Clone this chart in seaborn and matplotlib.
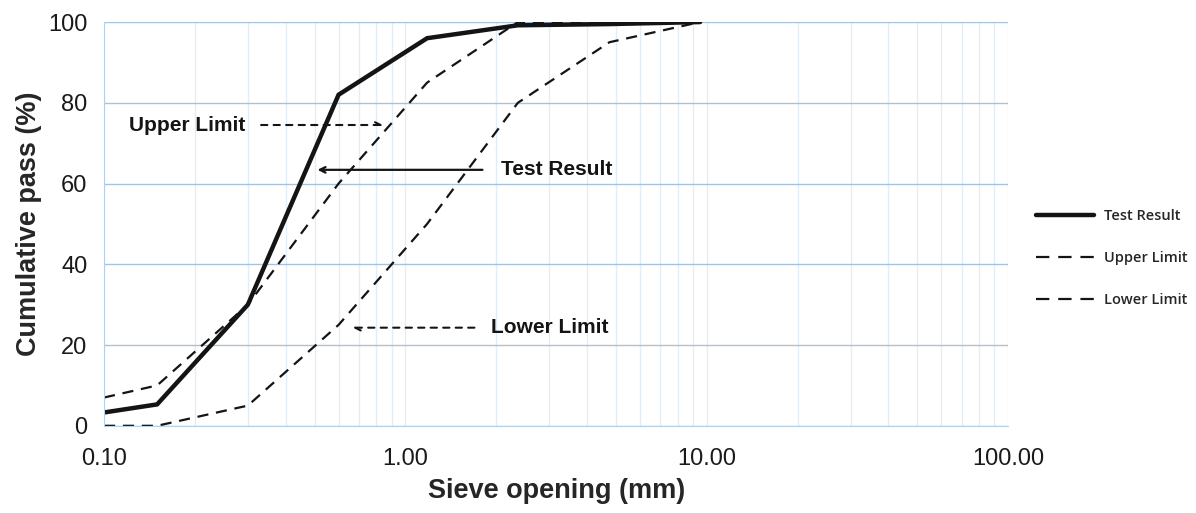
import matplotlib
matplotlib.use("Agg")
import matplotlib.pyplot as plt
import seaborn as sns
import pandas as pd
from matplotlib.ticker import FixedLocator, FixedFormatter, LogLocator, NullFormatter

sieve = [0.1, 0.15, 0.3, 0.6, 1.18, 2.36, 4.75, 9.5]
test_result = [3.3, 5.3, 30, 82, 96, 99.2, 99.5, 100]
upper_limit = [7, 10, 30, 60, 85, 100, 100, 100]
lower_limit = [0, 0, 5, 25, 50, 80, 95, 100]
series_names = ["Test Result", "Upper Limit", "Lower Limit"]

x_ticks = [0.1, 1, 10, 100]
x_tick_labels = ["0.10", "1.00", "10.00", "100.00"]
y_ticks = [0, 20, 40, 60, 80, 100]

sns.set_style("white")
plt.rcParams['font.family'] = ['Liberation Sans', 'DejaVu Sans']

fig = plt.figure(figsize=(11.96, 5.13), dpi=100)
ax = fig.add_axes([0.087, 0.170, 0.756, 0.787])

df = pd.DataFrame({"x": sieve * 3,
                   "y": test_result + upper_limit + lower_limit,
                   "s": sum([[n] * len(sieve) for n in series_names], [])})

ink = "#141414"
sns.lineplot(data=df[df.s == "Test Result"], x="x", y="y", ax=ax, color=ink,
             lw=3.2, label="Test Result", solid_joinstyle="miter")
sns.lineplot(data=df[df.s == "Upper Limit"], x="x", y="y", ax=ax, color=ink,
             lw=1.6, label="Upper Limit")
sns.lineplot(data=df[df.s == "Lower Limit"], x="x", y="y", ax=ax, color=ink,
             lw=1.6, label="Lower Limit")
lines = ax.get_lines()
lines[1].set_dashes((5, 3.5))
lines[2].set_dashes((5, 3.5))

ax.set_xscale("log")
ax.set_xlim(0.1, 100)
ax.set_ylim(0, 100)

ax.xaxis.set_major_locator(FixedLocator(x_ticks))
ax.xaxis.set_major_formatter(FixedFormatter(x_tick_labels))
ax.xaxis.set_minor_locator(LogLocator(base=10, subs=range(2, 10)))
ax.xaxis.set_minor_formatter(NullFormatter())
ax.set_yticks(y_ticks)

ax.grid(True, which="major", axis="y", color="#a8c2da", lw=1.0)
ax.grid(True, which="both", axis="x", color="#e2edf6", lw=1.0)
ax.set_axisbelow(True)
for s in ["top", "right"]:
    ax.spines[s].set_visible(False)
ax.spines["left"].set_color("#b8d0e4")
ax.spines["bottom"].set_color("#b8d0e4")
ax.tick_params(axis="both", which="both", length=0, labelsize=17, colors="#1a1a1a")
ax.tick_params(axis="x", pad=16)
ax.tick_params(axis="y", pad=12)

ax.set_xlabel("Sieve opening (mm)", fontsize=19.5, fontweight="bold", labelpad=6)
ax.set_ylabel("Cumulative pass (%)", fontsize=19.5, fontweight="bold", labelpad=4)

# annotations
ann_kw = dict(fontsize=15, fontweight="bold", color=ink, va="center")
ax.annotate("", xy=(0.86, 74.5), xytext=(0.325, 74.5),
            arrowprops=dict(arrowstyle="->", lw=1.5, ls=(0, (3, 3)), color=ink))
ax.text(0.121, 74.5, "Upper Limit", ha="left", **ann_kw)
ax.annotate("", xy=(0.50, 63.4), xytext=(1.84, 63.4),
            arrowprops=dict(arrowstyle="->", lw=1.6, color=ink))
ax.text(2.07, 63.4, "Test Result", ha="left", **ann_kw)
ax.annotate("", xy=(0.655, 24.3), xytext=(1.73, 24.3),
            arrowprops=dict(arrowstyle="->", lw=1.5, ls=(0, (3, 3)), color=ink))
ax.text(1.92, 24.3, "Lower Limit", ha="left", **ann_kw)

leg = ax.legend(loc="center left", bbox_to_anchor=(0.855, 0.497), bbox_transform=fig.transFigure,
                frameon=False, handlelength=4.0, labelspacing=1.9, handletextpad=0.7,
                prop={"family": "Open Sans", "size": 10.5, "weight": "semibold"})
for h in leg.get_lines():
    h.set_color(ink)
    h.set_dashes((6, 4)) if h.get_linestyle() != "-" else None

fig.savefig("out.png", dpi=100, facecolor="white")
